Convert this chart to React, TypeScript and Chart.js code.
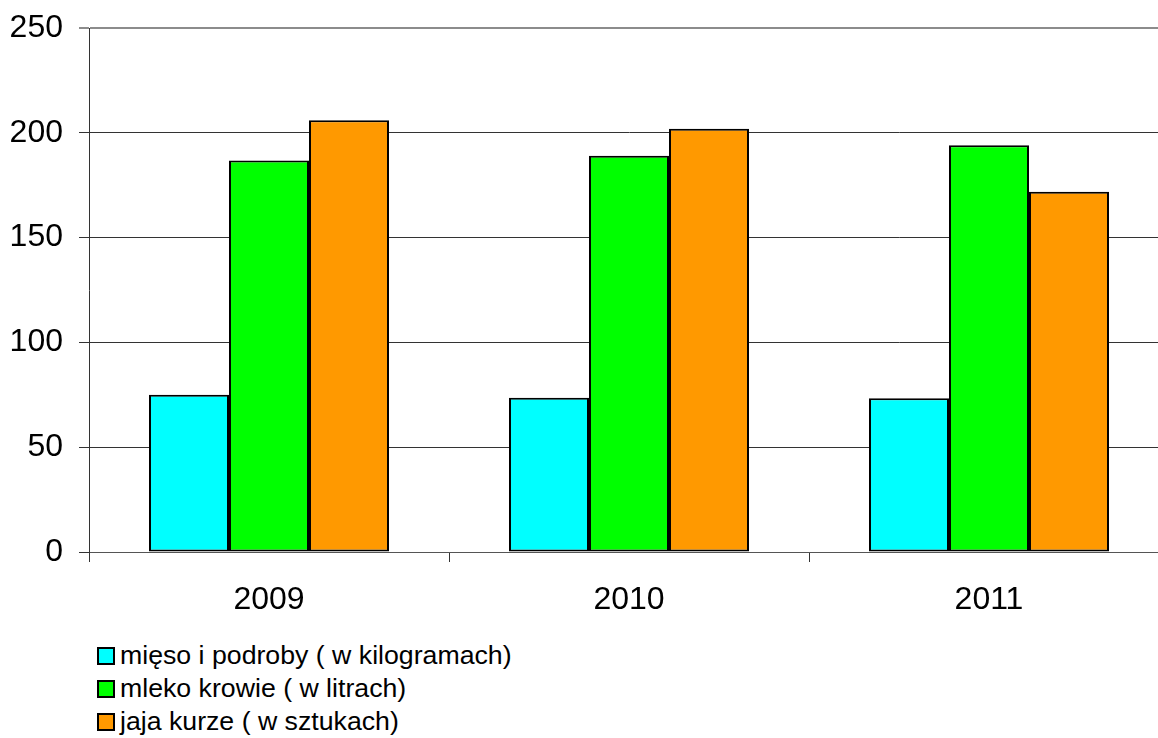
import React, { useEffect, useRef } from "react";
import { Chart, registerables } from "chart.js";

Chart.register(...registerables);

const categories = ["2009", "2010", "2011"];
const seriesNames = [
  "mięso i podroby ( w kilogramach)",
  "mleko krowie ( w litrach)",
  "jaja kurze ( w sztukach)",
];
const meatValues = [75, 73.6, 73.4];
const milkValues = [186.8, 189, 194.1];
const eggValues = [206, 201.9, 171.9];
const seriesColors = ["#00FFFF", "#00FF00", "#FF9900"];
const yTicks = [0, 50, 100, 150, 200, 250];

const FONT = "'Liberation Sans', Arial, sans-serif";
const CANVAS_W = 1169;
const CANVAS_H = 630;

export default function App() {
  const ref = useRef<HTMLCanvasElement | null>(null);

  useEffect(() => {
    document.documentElement.style.overflow = "hidden";
    document.body.style.overflow = "hidden";
    const canvas = ref.current;
    if (!canvas) return;
    const values = [meatValues, milkValues, eggValues];
    const chart = new Chart(canvas, {
      type: "bar",
      data: {
        labels: categories,
        datasets: seriesNames.map((name, i) => ({
          label: name,
          data: values[i],
          backgroundColor: seriesColors[i],
          borderColor: "#000000",
          borderWidth: 2,
          borderSkipped: false,
          categoryPercentage: 2 / 3,
          barPercentage: 1,
        })),
      },
      options: {
        responsive: false,
        animation: false,
        devicePixelRatio: 1,
        layout: { padding: { top: 28, right: 0, left: 0, bottom: 0 } },
        plugins: {
          legend: { display: false },
          tooltip: { enabled: false },
          title: { display: false },
        },
        scales: {
          x: {
            grid: {
              offset: true,
              drawOnChartArea: false,
              drawTicks: true,
              tickLength: 10,
              color: "#333333",
            },
            border: { display: true, color: "#555555", width: 1 },
            ticks: {
              color: "#000000",
              font: { family: FONT, size: 32 },
              padding: 19,
            },
            afterFit: (scale: any) => {
              scale.height = CANVAS_H - 552;
              scale.paddingLeft = 0;
              scale.paddingRight = 0;
            },
          },
          y: {
            min: 0,
            max: 250,
            afterBuildTicks: (scale: any) => {
              scale.ticks = yTicks.map((v) => ({ value: v }));
            },
            grid: {
              drawTicks: true,
              tickLength: 10,
              color: (ctx: any) =>
                ctx.tick && ctx.tick.value === 250 ? "#8c8c8c" : "#333333",
              lineWidth: (ctx: any) =>
                ctx.tick && ctx.tick.value === 250 ? 2 : 1,
            },
            border: { display: true, color: "#333333", width: 1 },
            ticks: {
              color: "#000000",
              font: { family: FONT, size: 32 },
              padding: 16,
            },
            afterFit: (scale: any) => {
              scale.width = 89;
              scale.paddingTop = 0;
              scale.paddingBottom = 0;
            },
          },
        },
      },
    });
    return () => chart.destroy();
  }, []);

  return (
    <div
      style={{
        position: "fixed",
        left: 0,
        top: 0,
        width: 1158,
        height: 738,
        overflow: "hidden",
        background: "#ffffff",
      }}
    >
      <canvas
        ref={ref}
        width={CANVAS_W}
        height={CANVAS_H}
        style={{ position: "absolute", left: 0, top: 0, width: CANVAS_W, height: CANVAS_H }}
      />
      <div style={{ position: "absolute", left: 97, top: 639, fontFamily: FONT, fontSize: 26.7, color: "#000" }}>
        {seriesNames.map((name, i) => (
          <div key={name} style={{ display: "flex", alignItems: "center", height: 33 }}>
            <span
              style={{
                display: "inline-block",
                width: 14,
                height: 14,
                background: seriesColors[i],
                border: "2px solid #000",
                marginRight: 5,
              }}
            />
            <span style={{ lineHeight: "33px", whiteSpace: "nowrap" }}>{name}</span>
          </div>
        ))}
      </div>
    </div>
  );
}
